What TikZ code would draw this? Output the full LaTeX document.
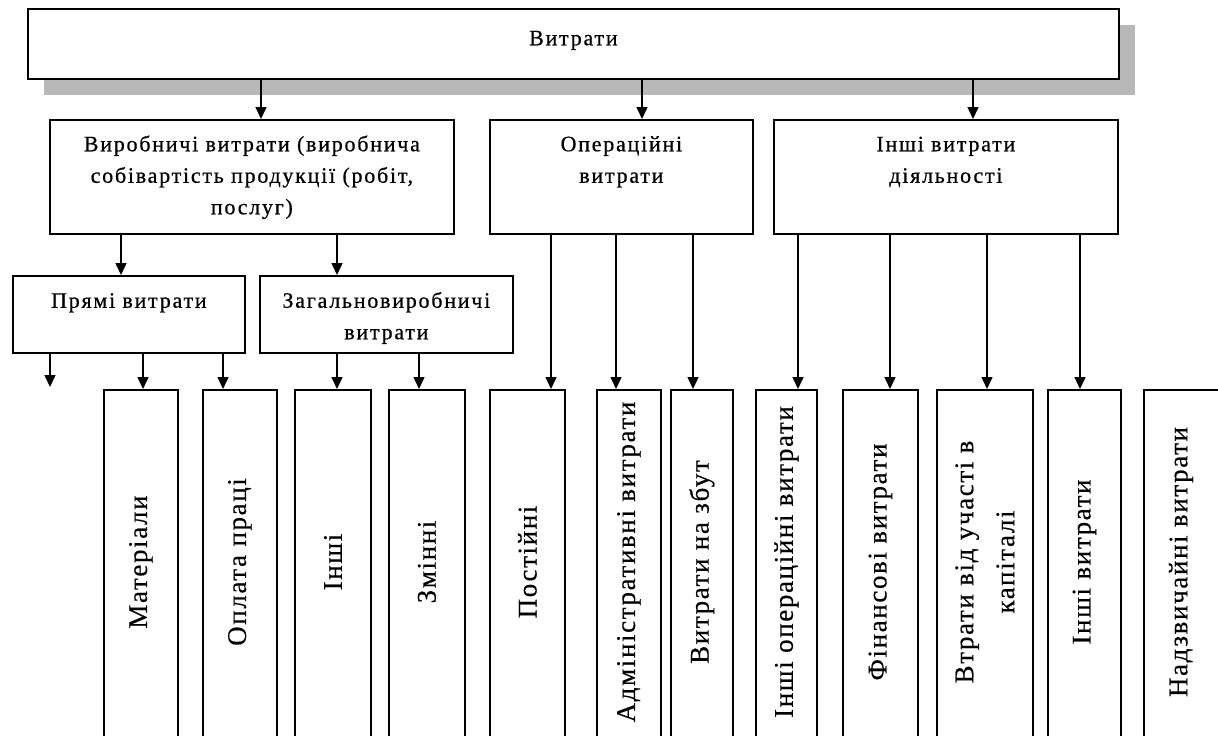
\documentclass[tikz,border=0pt]{standalone}
\usepackage{fontspec}
\setmainfont{Liberation Serif}
\newfontfamily\mfont{Liberation Serif}[LetterSpace=8,FakeBold=0.6]
\newfontfamily\vfont{Liberation Serif}[LetterSpace=6,FakeBold=0.4]
\usetikzlibrary{arrows.meta}
\definecolor{shadowc}{gray}{0.72}
\begin{document}
\begin{tikzpicture}[x=1pt,y=-1pt,
  box/.style={draw, line width=1.8pt, inner sep=0pt, anchor=north west, fill=white},
  arr/.style={line width=1.5pt, -{Triangle[width=11pt,length=12pt]}},
  mtxt/.style={anchor=north, inner sep=0pt, align=center, font=\mfont\fontsize{22}{31.5}\selectfont},
  vtxt/.style={rotate=90, inner sep=0pt, align=center, font=\vfont\fontsize{27}{41}\selectfont}]
\useasboundingbox (0,0) rectangle (1218,736);
% top box
\node[box, minimum width=1089pt, minimum height=68pt, draw=none, fill=none] (T) at (28,9) {};
\fill[shadowc] ([shift={(16,16)}]T.north west) rectangle ([shift={(16,16)}]T.south east);
\draw[line width=1.8pt, fill=white] (T.north west) rectangle (T.south east);
\node[mtxt] (Tt) at ([shift={(0,14)}]T.north) {\strut Витрати};
% middle boxes
\node[box, minimum width=404pt, minimum height=114pt] (A) at (49,119) {};
\node[box, minimum width=263pt, minimum height=114pt] (O) at (489,119) {};
\node[box, minimum width=344pt, minimum height=114pt] (I) at (773,119) {};
\node[mtxt] (At) at ([shift={(0,10)}]A.north) {\strut Виробничі витрати (виробнича\\собівартість продукції (робіт,\\послуг)};
\node[mtxt] (Ot) at ([shift={(0,10)}]O.north) {\strut Операційні\\витрати};
\node[mtxt] (It) at ([shift={(0,10)}]I.north) {\strut Інші витрати\\діяльності};
% third level
\node[box, minimum width=232pt, minimum height=77pt] (P) at (12,275) {};
\node[box, minimum width=253pt, minimum height=77pt] (Z) at (259,275) {};
\node[mtxt] (Pt) at ([shift={(0,10.5)}]P.north) {\strut Прямі витрати};
\node[mtxt] (Zt) at ([shift={(0,10.5)}]Z.north) {\strut Загальновиробничі\\витрати};
% bottom boxes
\foreach \nm/\xa/\xb in {b1/103/177, b2/202/276, b3/294/370, b4/388/464, b5/489/564, b6/596/660, b7/670/732, b8/755/816, b9/842/917, b10/936/1032, b11/1047/1120, b12/1143/1240}{
  \node[box, minimum width={(\xb-\xa)*1pt}, minimum height=347.5pt] (\nm) at (\xa,389) {};
}
\node[vtxt] (t1) at ([shift={(0,173)}]b1.north) {Матеріали};
\node[vtxt] (t2) at ([shift={(0,173)}]b2.north) {Оплата праці};
\node[vtxt] (t3) at ([shift={(0,173)}]b3.north) {Інші};
\node[vtxt] (t4) at ([shift={(0,173)}]b4.north) {Змінні};
\node[vtxt] (t5) at ([shift={(0,173)}]b5.north) {Постійні};
\node[vtxt] (t6) at ([shift={(0,173)}]b6.north) {Адміністративні витрати};
\node[vtxt] (t7) at ([shift={(0,173)}]b7.north) {Витрати на збут};
\node[vtxt] (t8) at ([shift={(0,173)}]b8.north) {Інші операційні витрати};
\node[vtxt] (t9) at ([shift={(0,173)}]b9.north) {Фінансові витрати};
\node[vtxt] (t10) at ([shift={(0,173)}]b10.north) {Втрати від участі в\\капіталі};
\node[vtxt] (t11) at ([shift={(0,173)}]b11.north) {Інші витрати};
\node[vtxt] (t12) at (1181,562) {Надзвичайні витрати};
% x positions of connectors
\foreach \n/\x in {a1/261, a2/642, a3/973, c1/121, c2/337, d0/50, d1/143, d2/223, d3/337, d4/419, e1/551, e2/616, e3/693, f1/798, f2/890, f3/987, f4/1080}{
  \coordinate (\n) at (\x,0);
}
\coordinate (free) at (50,387);
% connectors
\draw[arr] (T.south -| a1) -- (A.north -| a1);
\draw[arr] (T.south -| a2) -- (O.north -| a2);
\draw[arr] (T.south -| a3) -- (I.north -| a3);
\draw[arr] (A.south -| c1) -- (P.north -| c1);
\draw[arr] (A.south -| c2) -- (Z.north -| c2);
\draw[arr] (P.south -| free) -- (free);
\draw[arr] (P.south -| d1) -- (b1.north -| d1);
\draw[arr] (P.south -| d2) -- (b2.north -| d2);
\draw[arr] (Z.south -| d3) -- (b3.north -| d3);
\draw[arr] (Z.south -| d4) -- (b4.north -| d4);
\draw[arr] (O.south -| e1) -- (b5.north -| e1);
\draw[arr] (O.south -| e2) -- (b6.north -| e2);
\draw[arr] (O.south -| e3) -- (b7.north -| e3);
\draw[arr] (I.south -| f1) -- (b8.north -| f1);
\draw[arr] (I.south -| f2) -- (b9.north -| f2);
\draw[arr] (I.south -| f3) -- (b10.north -| f3);
\draw[arr] (I.south -| f4) -- (b11.north -| f4);
\end{tikzpicture}
\end{document}
